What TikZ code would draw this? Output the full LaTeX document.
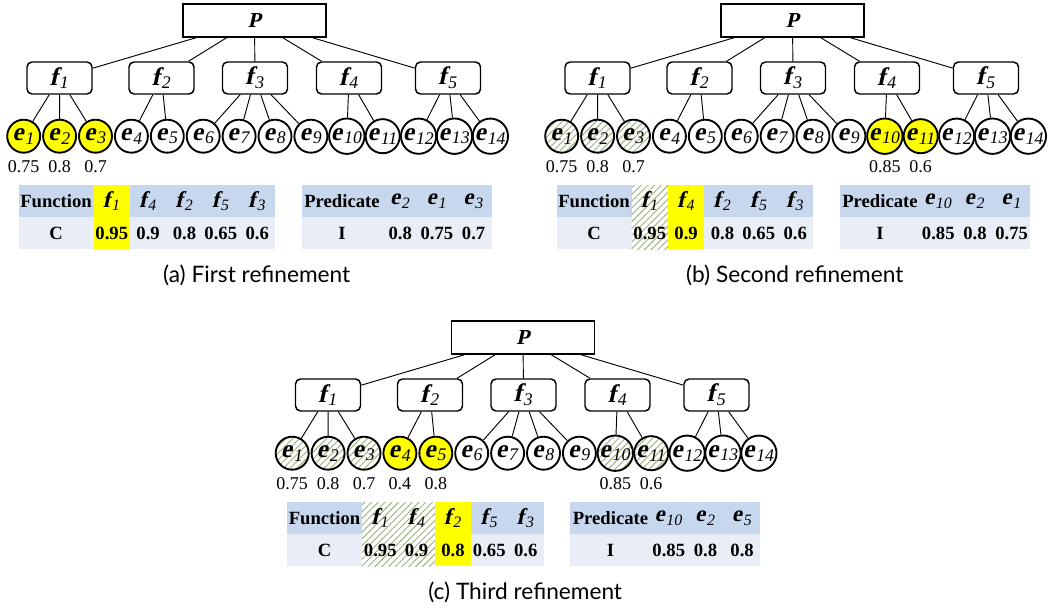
\documentclass[tikz,border=0pt]{standalone}
\usepackage{fontspec}
\setmainfont{Liberation Serif}
\newfontfamily\capfont{Lato}
% slanted bold serif for the node letters
\newfontfamily\bisl{Liberation Serif}[FakeSlant=0.22]
\usetikzlibrary{patterns.meta}

\definecolor{hdblue}{HTML}{C6D7EE}
\definecolor{rowgrey}{HTML}{E9EEF6}
\definecolor{hatchgreen}{HTML}{9AB27C}
\definecolor{hlyellow}{HTML}{FFFF00}

% node label: bold slanted letter with a light italic index
\newcommand\lbl[2]{{\bisl\bfseries #1}\kern0.08em\textsubscript{\textit{#2}}}

\tikzset{
  rootbox/.style={draw, line width=1.1pt, minimum width=107.25pt, minimum height=24.75pt,
    inner sep=0pt, font=\fontsize{16}{16}\selectfont\bisl\bfseries},
  fbox/.style={draw, rounded corners=3.75pt, line width=1.1pt, minimum width=48.75pt,
    minimum height=24pt, inner sep=0pt, font=\fontsize{19}{19}\selectfont},
  ecirc/.style={draw, circle, line width=1.4pt, minimum size=24.75pt, inner sep=0pt,
    font=\fontsize{19}{19}\selectfont},
  edge/.style={line width=0.7pt},
  score/.style={font=\fontsize{13.5}{13.5}\selectfont, inner sep=0pt},
  hl/.style={fill=hlyellow},
  done/.style={preaction={fill=white}, pattern={Lines[angle=45,distance=3.6pt,line width=0.7pt]},
    pattern color=hatchgreen},
  s1/.style={}, s2/.style={}, s3/.style={}, s4/.style={}, s5/.style={}, s6/.style={},
  s7/.style={}, s8/.style={}, s9/.style={}, s10/.style={}, s11/.style={}, s12/.style={},
  s13/.style={}, s14/.style={},
  cell/.style={inner sep=0pt, minimum height=24pt, minimum width=27.3pt, anchor=north west,
    font=\fontsize{14}{14}\selectfont\bfseries},
  lcell/.style={cell, font=\fontsize{17}{17}\selectfont},
  hd/.style={fill=hdblue},
  rw/.style={fill=rowgrey},
  caption/.style={font=\capfont\fontsize{17}{17}\selectfont, inner sep=0pt}
}

% tree: root P, functions f1..f5, predicates e1..e14
\newcommand\drawtree{%
  \node[rootbox] (P) at (254.5,20.5) {P};
  \foreach \k/\x in {1/59.5,2/161.5,3/255,4/349,5/448}{
    \node[fbox] (f\k) at (\x,78) {\lbl{f}{\k}};
    \draw[edge] (P) -- (f\k);
  }
  \foreach \i in {1,...,14}{
    \node[ecirc, s\i] (e\i) at ({23.7+35.9*(\i-1)},136.2) {\lbl{e}{\i}};
  }
  \foreach \k/\i in {1/1,1/2,1/3,2/4,2/5,3/6,3/7,3/8,3/9,4/10,4/11,5/12,5/13,5/14}
    \draw[edge] (f\k) -- (e\i);
}

% scores printed under predicates: list of index/value
\newcommand\scores[1]{%
  \foreach \i/\v in {#1}
    \node[score] (v\i) at ({23.7+35.9*(\i-1)},167) {\v};
}

% function ranking table: index/value/header style/row style
\newcommand\functable[1]{%
  \node[cell, hd, minimum width=56.25pt] (fh0) at (18.3,185) {Function};
  \node[cell, rw, minimum width=56.25pt] (fr0) at (18.3,217) {C};
  \foreach \s/\v/\hs/\rs [count=\c] in {#1}{
    \node[lcell, \hs] (fh\c) at ({93.3+36.35*(\c-1)},185) {\lbl{f}{\s}};
    \node[cell, \rs] (fr\c) at ({93.3+36.35*(\c-1)},217) {\v};
  }
}

% predicate ranking table: index/value
\newcommand\predtable[1]{%
  \node[cell, hd, minimum width=60pt] (ph0) at (301.7,185) {Predicate};
  \node[cell, rw, minimum width=60pt] (pr0) at (301.7,217) {I};
  \foreach \s/\v [count=\c] in {#1}{
    \node[lcell, hd, minimum width=27.5pt] (ph\c) at ({381.7+36.67*(\c-1)},185) {\lbl{e}{\s}};
    \node[cell, rw, minimum width=27.5pt] (pr\c) at ({381.7+36.67*(\c-1)},217) {\v};
  }
}

\begin{document}
\begin{tikzpicture}[x=0.75pt, y=-0.75pt]
\useasboundingbox (0,0) rectangle (1052,609);

% (a) first refinement
\begin{scope}[name prefix=a-, s1/.style=hl, s2/.style=hl, s3/.style=hl]
  \drawtree
  \scores{1/0.75,2/0.8,3/0.7}
  \functable{1/0.95/hl/hl,4/0.9/hd/rw,2/0.8/hd/rw,5/0.65/hd/rw,3/0.6/hd/rw}
  \predtable{2/0.8,1/0.75,3/0.7}
  \node[caption] (cap) at (256.7,275) {(a) First refinement};
\end{scope}

% (b) second refinement
\begin{scope}[shift={(538,0)}, name prefix=b-, s1/.style=done, s2/.style=done,
    s3/.style=done, s10/.style=hl, s11/.style=hl]
  \drawtree
  \scores{1/0.75,2/0.8,3/0.7,10/0.85,11/0.6}
  \functable{1/0.95/done/done,4/0.9/hl/hl,2/0.8/hd/rw,5/0.65/hd/rw,3/0.6/hd/rw}
  \predtable{10/0.85,2/0.8,1/0.75}
  \node[caption] (cap) at (256.7,275) {(b) Second refinement};
\end{scope}

% (c) third refinement
\begin{scope}[shift={(268.5,317)}, name prefix=c-, s1/.style=done, s2/.style=done,
    s3/.style=done, s4/.style=hl, s5/.style=hl, s10/.style=done, s11/.style=done]
  \drawtree
  \scores{1/0.75,2/0.8,3/0.7,4/0.4,5/0.8,10/0.85,11/0.6}
  \functable{1/0.95/done/done,4/0.9/done/done,2/0.8/hl/hl,5/0.65/hd/rw,3/0.6/hd/rw}
  \predtable{10/0.85,2/0.8,5/0.8}
  \node[caption] (cap) at (256.7,275) {(c) Third refinement};
\end{scope}
\end{tikzpicture}
\end{document}
